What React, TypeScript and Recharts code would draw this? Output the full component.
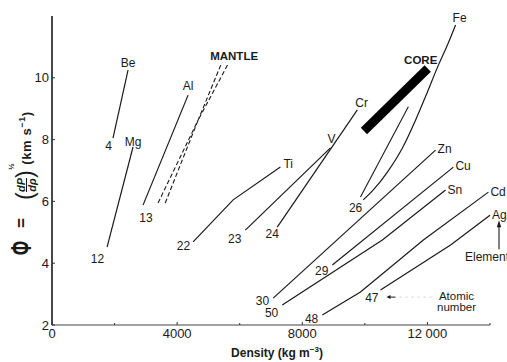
import React from 'react';
import { LineChart, Line, XAxis, YAxis, ReferenceDot } from 'recharts';

type Pt = { d: number; p: number };

// ---- data (density kg m^-3, phi km s^-1) ----
const beLine: Pt[] = [{ d: 1950, p: 8.05 }, { d: 2430, p: 10.25 }];
const mgLine: Pt[] = [{ d: 1760, p: 4.52 }, { d: 2590, p: 7.76 }];
const alLine: Pt[] = [{ d: 2910, p: 5.88 }, { d: 4350, p: 9.44 }];
const tiLine: Pt[] = [{ d: 4510, p: 4.69 }, { d: 5790, p: 6.05 }, { d: 7300, p: 7.11 }];
const vLine: Pt[] = [{ d: 6180, p: 5.07 }, { d: 8900, p: 7.73 }];
const crLine: Pt[] = [{ d: 7200, p: 5.17 }, { d: 9760, p: 8.96 }];
const feLine: Pt[] = [
  { d: 9950, p: 6.05 }, { d: 10270, p: 6.37 }, { d: 10720, p: 6.95 },
  { d: 11200, p: 7.73 }, { d: 11620, p: 8.63 }, { d: 12000, p: 9.54 },
  { d: 12350, p: 10.41 }, { d: 12640, p: 11.06 }, { d: 12900, p: 11.71 },
];
const feBranch: Pt[] = [{ d: 9860, p: 6.14 }, { d: 11390, p: 9.06 }];
const znLine: Pt[] = [{ d: 7070, p: 2.87 }, { d: 12260, p: 7.66 }];
const cuLine: Pt[] = [{ d: 8960, p: 3.94 }, { d: 12830, p: 7.11 }];
const snLine: Pt[] = [{ d: 7360, p: 2.65 }, { d: 10560, p: 4.75 }, { d: 12580, p: 6.37 }];
const cdLine: Pt[] = [{ d: 8640, p: 2.32 }, { d: 9860, p: 3.07 }, { d: 11870, p: 4.75 }, { d: 13950, p: 6.3 }];
const agLine: Pt[] = [{ d: 10500, p: 3.13 }, { d: 12740, p: 4.59 }, { d: 14000, p: 5.55 }];
const mantleA: Pt[] = [{ d: 3390, p: 5.95 }, { d: 4670, p: 8.63 }, { d: 5410, p: 10.45 }];
const mantleB: Pt[] = [{ d: 3620, p: 5.95 }, { d: 4670, p: 8.63 }, { d: 5630, p: 10.45 }];
const coreBand: Pt[] = [{ d: 9970, p: 8.28 }, { d: 12010, p: 10.3 }];

const elementNames = ['Be', 'Mg', 'Al', 'Ti', 'V', 'Cr', 'Fe', 'Zn', 'Cu', 'Sn', 'Cd', 'Ag'];
const atomicNumbers = [4, 12, 13, 22, 23, 24, 26, 30, 29, 50, 48, 47];
const elementLines = [beLine, mgLine, alLine, tiLine, vLine, crLine, feLine, znLine, cuLine, snLine, cdLine, agLine];

const xTicks = [0, 2000, 4000, 6000, 8000, 10000, 12000, 14000];
const xLabelled = [0, 4000, 8000, 12000];
const yTicks = [2, 4, 6, 8, 10, 12];
const yLabelled = [2, 4, 6, 8, 10];

const atomicNote = { d: 12930, p: 2.87 };
const elementNote = { d: 14000, p: 4.45 };

// ---- styles ----
const FONT = '"Liberation Sans", Arial, Helvetica, sans-serif';
const INK = '#1a1a1a';

type Off = { a: 'start' | 'middle' | 'end'; dx: number; dy: number };
const topOff: Record<string, Off> = {
  Be: { a: 'middle', dx: 0, dy: -3 },
  Mg: { a: 'middle', dx: 0, dy: -1 },
  Al: { a: 'middle', dx: 0, dy: -5 },
  Ti: { a: 'start', dx: 3, dy: 1 },
  V: { a: 'middle', dx: 1, dy: -5 },
  Cr: { a: 'start', dx: -2, dy: -3 },
  Fe: { a: 'start', dx: -3, dy: -3 },
  Zn: { a: 'start', dx: 2, dy: 3 },
  Cu: { a: 'start', dx: 2, dy: 3 },
  Sn: { a: 'start', dx: 2, dy: 4 },
  Cd: { a: 'start', dx: 2, dy: 4 },
  Ag: { a: 'start', dx: 2, dy: 4 },
};
const bottomOff: Record<string, Off> = {
  Be: { a: 'end', dx: -1, dy: 12 },
  Mg: { a: 'end', dx: -3, dy: 16 },
  Al: { a: 'middle', dx: 3, dy: 17 },
  Ti: { a: 'end', dx: -3, dy: 8 },
  V: { a: 'end', dx: -4, dy: 13 },
  Cr: { a: 'middle', dx: -5, dy: 11 },
  Fe: { a: 'end', dx: -1, dy: 12 },
  Zn: { a: 'end', dx: -4, dy: 7 },
  Cu: { a: 'end', dx: -4, dy: 10 },
  Sn: { a: 'end', dx: -4, dy: 12 },
  Cd: { a: 'end', dx: -4, dy: 8 },
  Ag: { a: 'end', dx: -2, dy: 12 },
};

const labelText = (key: string, x: number, y: number, o: Off, txt: string, size = 12, weight = 'normal') => (
  <text key={key} x={x + o.dx} y={y + o.dy} textAnchor={o.a} fontSize={size} fontWeight={weight} fill={INK} fontFamily={FONT}>
    {txt}
  </text>
);

const makeEndLabels =
  (n: number, top?: string, tOff?: Off, bottom?: string, bOff?: Off, size = 12, weight = 'normal') =>
  (props: any) => {
    const { cx, cy, index } = props;
    if (index === n - 1 && top && tOff) return labelText(`t-${index}`, cx, cy, tOff, top, size, weight);
    if (index === 0 && bottom && bOff) return labelText(`b-${index}`, cx, cy, bOff, bottom, size, weight);
    return <g key={`n-${index}`} />;
  };

const fmtX = (v: number) => (v >= 10000 ? `${Math.floor(v / 1000)} ${String(v % 1000).padStart(3, '0')}` : String(v));

const XTick = (props: any) => {
  const { x, y, payload } = props;
  const v = payload.value as number;
  const lab = xLabelled.includes(v);
  return (
    <g>
      <line x1={x} y1={y} x2={x} y2={y - (lab ? 3 : 2)} stroke="#333" strokeWidth={1} />
      {lab && (
        <text x={x} y={y + 13} textAnchor="middle" fontSize={13} fill={INK} fontFamily={FONT}>
          {fmtX(v)}
        </text>
      )}
    </g>
  );
};

const YTick = (props: any) => {
  const { x, y, payload } = props;
  const v = payload.value as number;
  const lab = yLabelled.includes(v);
  return (
    <g>
      {v !== 12 && <line x1={x} y1={y} x2={x + 3} y2={y} stroke="#333" strokeWidth={1} />}
      {lab && (
        <text x={x - 3} y={y + 4.5} textAnchor="end" fontSize={13} fill={INK} fontFamily={FONT}>
          {v}
        </text>
      )}
    </g>
  );
};

// y-axis title: Φ = (dP/dρ)^½ (km s^-1), rotated
const YLabel = () => (
  <g fill={INK} fontFamily={FONT}>
    <text transform="translate(23 240) rotate(-90) scale(1 1.7)" x={0} y={0} textAnchor="middle" fontSize={17} fontWeight="bold">
      Φ
    </text>
    <text transform="translate(18.5 215) rotate(-90)" x={0} y={0} textAnchor="middle" fontSize={17} fontWeight="bold">
      =
    </text>
    <g transform="translate(30 176) rotate(-90)">
      <text x={-16} y={-5} fontSize={23}>(</text>
      <text x={-1} y={-13} fontSize={11} textAnchor="middle" fontStyle="italic" fontWeight="bold">dP</text>
      <line x1={-8} y1={-11.5} x2={6} y2={-11.5} stroke={INK} strokeWidth={1} />
      <text x={-1} y={-2} fontSize={11} textAnchor="middle" fontStyle="italic" fontWeight="bold">dρ</text>
      <text x={6} y={-5} fontSize={23}>)</text>
      <text x={14} y={-24} fontSize={8} fontWeight="bold">½</text>
    </g>
    <text transform="translate(23 130) rotate(-90)" x={0} y={0} textAnchor="middle" fontSize={13} fontWeight="bold" letterSpacing={0.6}>
      (km s<tspan fontSize={9} dy={-6}>−1</tspan>
      <tspan dy={6}>)</tspan>
    </text>
  </g>
);

const XLabel = () => (
  <text x={269} y={349} textAnchor="middle" fontSize={12} fontWeight="bold" fill={INK} fontFamily={FONT}>
    Density (kg m<tspan fontSize={8} dy={-5}>−3</tspan>
    <tspan dy={5}>)</tspan>
  </text>
);

const AtomicNoteShape = (props: any) => {
  const { cx, cy } = props;
  return (
    <g fontFamily={FONT} fill={INK}>
      <line x1={cx - 61} y1={cy - 1} x2={cx - 67} y2={cy - 1} stroke={INK} strokeWidth={1} />
      <path d={`M ${cx - 70} ${cy - 1} L ${cx - 66} ${cy - 3} L ${cx - 66} ${cy + 1} Z`} fill={INK} />
      <line x1={cx - 57} y1={cy - 1} x2={cx - 25} y2={cy - 1} stroke="#d0d0d0" strokeWidth={1} strokeDasharray="2 4" />
      <text x={cx} y={cy + 2} textAnchor="middle" fontSize={11.5}>Atomic</text>
      <text x={cx} y={cy + 13} textAnchor="middle" fontSize={11.5}>number</text>
    </g>
  );
};

const ElementNoteShape = (props: any) => {
  const { cx, cy } = props;
  const ax = cx + 9;
  return (
    <g fontFamily={FONT} fill={INK}>
      <line x1={ax} y1={cy} x2={ax} y2={cy - 24} stroke={INK} strokeWidth={1.1} />
      <path d={`M ${ax} ${cy - 29} L ${ax - 2.2} ${cy - 22} L ${ax + 2.2} ${cy - 22} Z`} fill={INK} />
      <text x={cx - 25} y={cy + 12} textAnchor="start" fontSize={12}>Element</text>
    </g>
  );
};

export default function App() {
  return (
    <div style={{ width: 499, height: 354, fontFamily: FONT, overflow: 'visible' }}>
      <style>{'html,body{overflow:hidden} body{margin:8px 0 0 8px} .recharts-wrapper,.recharts-surface{overflow:visible !important}'}</style>
      <LineChart width={499} height={354} margin={{ top: 8, right: 17, bottom: 0, left: 0 }}>
        <XAxis
          type="number"
          dataKey="d"
          domain={[0, 14000]}
          ticks={xTicks}
          interval={0}
          tickSize={0}
          tickMargin={0}
          tick={<XTick />}
          height={37}
          axisLine={{ stroke: '#444', strokeWidth: 1 }}
          label={<XLabel />}
        />
        <YAxis
          type="number"
          dataKey="p"
          domain={[2, 12]}
          ticks={yTicks}
          interval={0}
          tickSize={0}
          tickMargin={0}
          tick={<YTick />}
          width={44}
          axisLine={{ stroke: INK, strokeWidth: 1.6 }}
          label={<YLabel />}
        />
        {/* mantle */}
        <Line data={mantleA} dataKey="p" stroke={INK} strokeWidth={1.1} strokeDasharray="4.5 2.5" dot={false} activeDot={false} isAnimationActive={false} />
        <Line
          data={mantleB}
          dataKey="p"
          stroke={INK}
          strokeWidth={1.1}
          strokeDasharray="4.5 2.5"
          dot={makeEndLabels(mantleB.length, 'MANTLE', { a: 'middle', dx: 6, dy: -4 }, undefined, undefined, 11.5, 'bold')}
          activeDot={false}
          isAnimationActive={false}
        />
        {/* core */}
        <Line
          data={coreBand}
          dataKey="p"
          stroke="#000"
          strokeWidth={9}
          strokeLinecap="butt"
          dot={makeEndLabels(coreBand.length, 'CORE', { a: 'middle', dx: -7, dy: -5 }, undefined, undefined, 11.5, 'bold')}
          activeDot={false}
          isAnimationActive={false}
        />
        <Line data={feBranch} dataKey="p" stroke={INK} strokeWidth={1.1} dot={false} activeDot={false} isAnimationActive={false} />
        {elementNames.map((nm, i) => (
          <Line
            key={nm}
            type={nm === 'Fe' ? 'monotone' : 'linear'}
            data={elementLines[i]}
            dataKey="p"
            stroke={INK}
            strokeWidth={1.2}
            dot={makeEndLabels(elementLines[i].length, nm, topOff[nm], String(atomicNumbers[i]), bottomOff[nm])}
            activeDot={false}
            isAnimationActive={false}
          />
        ))}
        <ReferenceDot x={atomicNote.d} y={atomicNote.p} r={0} ifOverflow="visible" shape={<AtomicNoteShape />} />
        <ReferenceDot x={elementNote.d} y={elementNote.p} r={0} ifOverflow="visible" shape={<ElementNoteShape />} />
      </LineChart>
    </div>
  );
}
